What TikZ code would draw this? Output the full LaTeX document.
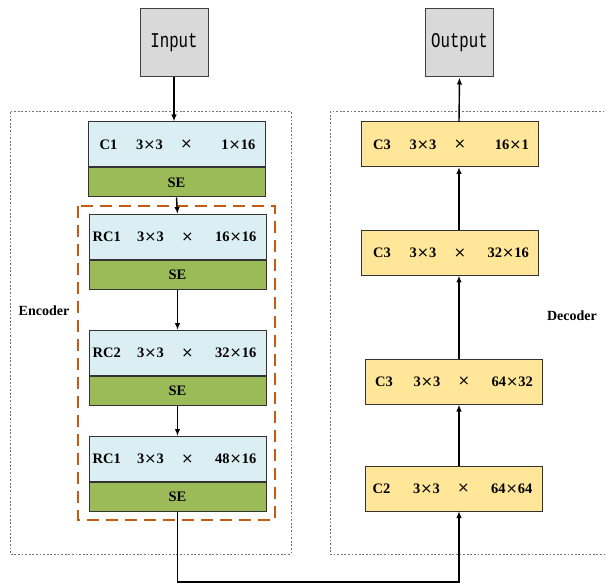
\documentclass[tikz,border=0pt]{standalone}
\usepackage{fontspec}
\setmainfont{Liberation Serif}
\newfontfamily\iofont[FakeStretch=0.75]{Liberation Mono}
\newfontfamily\symfont{DejaVu Sans}
\newcommand{\tm}{{\symfont\mdseries ×}}
\usetikzlibrary{arrows.meta,calc}
\definecolor{lblue}{HTML}{DAEEF3}
\definecolor{segreen}{HTML}{9BBB59}
\definecolor{lyellow}{HTML}{FFE699}
\definecolor{lgray}{HTML}{D9D9D9}
\definecolor{dorange}{HTML}{C55A11}
\tikzset{
  iobox/.style={draw=black!75,fill=lgray,line width=1pt,minimum width=68pt,minimum height=68pt,inner sep=0pt,font=\iofont\fontsize{21}{21}\selectfont},
  convbox/.style={draw=black!80,line width=1pt,minimum width=177pt,minimum height=45pt,inner sep=0pt},
  sebox/.style={draw=black!80,fill=segreen,line width=1pt,minimum width=177pt,minimum height=29pt,inner sep=0pt,font=\bfseries\fontsize{14.5}{14.5}\selectfont},
  txt/.style={inner sep=0pt,font=\bfseries\fontsize{14.5}{14.5}\selectfont},
  lbl/.style={inner sep=0pt,font=\bfseries\fontsize{14}{14}\selectfont},
  frame/.style={draw=black!55,line width=1pt,dash pattern=on 1.8pt off 1.8pt},
  grp/.style={draw=dorange,line width=1.1pt,dash pattern=on 12pt off 7pt},
  arr/.style={-{Latex[length=7pt,width=5.5pt]},line width=1.4pt},
}
% \blk{name}{x-center}{y-center}{label}{label offset}{right text}{fill}
\newcommand{\blk}[7]{%
  \node[convbox,fill=#7] (#1) at (#2,#3) {};
  \node[txt,anchor=west] (#1-a) at ($(#1.west)+(#5,0)$) {#4};
  \node[txt] (#1-b) at ($(#1.west)+(62,0)$) {3\tm3};
  \node[txt] (#1-c) at ($(#1.west)+(99,0)$) {\tm};
  \node[txt,anchor=east] (#1-d) at ($(#1.east)+(-10,0)$) {#6};
}
\begin{document}
\begin{tikzpicture}[x=1pt,y=-1pt]
\useasboundingbox (0,0) rectangle (606,583);
% frames
\draw[frame] (10,112) rectangle (291,554);
\draw[frame] (608,112) -- (330,112) -- (330,554) -- (608,554);
\draw[grp] (78,206) rectangle (275,520);
\node[lbl] (enc) at (44,311) {Encoder};
\node[lbl] (dec) at (572,316) {Decoder};
% input / output
\node[iobox] (in) at (174,43) {Input};
\node[iobox] (out) at (459.5,43) {Output};
% encoder
\blk{c1}{176.5}{144.5}{C1}{12}{1\tm16}{lblue}
\node[sebox,anchor=north] (se1) at (c1.south) {SE};
\blk{rc1}{177.5}{237}{RC1}{4}{16\tm16}{lblue}
\node[sebox,anchor=north] (se2) at (rc1.south) {SE};
\blk{rc2}{177.5}{353}{RC2}{4}{32\tm16}{lblue}
\node[sebox,anchor=north] (se3) at (rc2.south) {SE};
\blk{rc3}{177.5}{459}{RC1}{4}{48\tm16}{lblue}
\node[sebox,anchor=north] (se4) at (rc3.south) {SE};
% decoder
\blk{d1}{450}{144.5}{C3}{12}{16\tm1}{lyellow}
\blk{d2}{450}{253}{C3}{12}{32\tm16}{lyellow}
\blk{d3}{454}{381.5}{C3}{10}{64\tm32}{lyellow}
\blk{d4}{453.5}{488.5}{C2}{8}{64\tm64}{lyellow}
% connectors
\draw[arr] (in.south) -- (in.south |- c1.north);
\draw[arr] (se1.south) -- (rc1.north);
\draw[arr] (se2.south) -- (rc2.north);
\draw[arr] (se3.south) -- (rc3.north);
\coordinate (b1) at ($(se4.south)+(0,70)$);
\coordinate (b2) at (459,511);
\draw[arr] (se4.south) -- (b1) -| (b2);
\draw[arr] (459,466) -- (459,404.5);
\draw[arr] (459,358.5) -- (459,275.5);
\draw[arr] (459,230.5) -- (459,167);
\draw[arr] (459,122) -- (out.south);
\end{tikzpicture}
\end{document}
